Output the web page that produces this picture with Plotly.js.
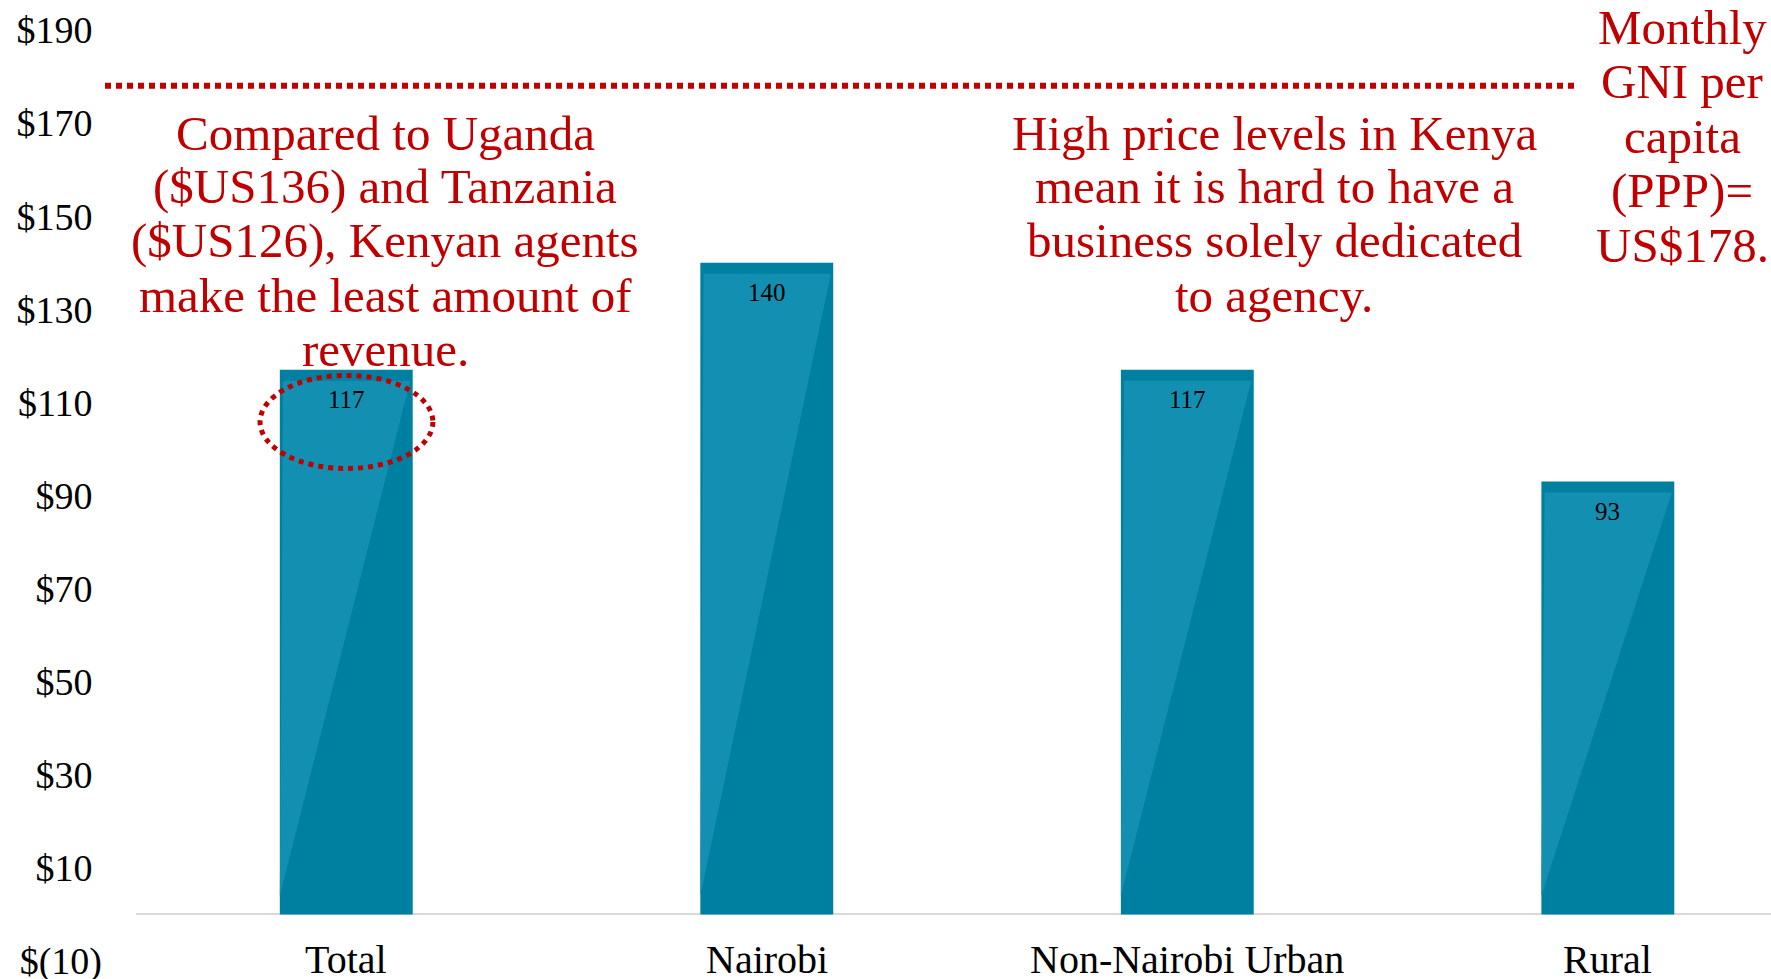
<!DOCTYPE html>
<html>
<head>
<meta charset="utf-8">
<script src="https://cdn.plot.ly/plotly-3.0.1.min.js"></script>
<style>html,body{margin:0;padding:0;background:#fff;}#chart{width:1771px;height:979px;}</style>
</head>
<body>
<div id="chart"></div>
<script>
// ---- data ----
const categories = ["Total", "Nairobi", "Non-Nairobi Urban", "Rural"];
const revenue = [117, 140, 117, 93];
const gniMonthly = 178;
const tickValues = [-10, 10, 30, 50, 70, 90, 110, 130, 150, 170, 190];
const tickLabels = ["$(10)", "$10", "$30", "$50", "$70", "$90", "$110", "$130", "$150", "$170", "$190"];
const noteLeft = ["Compared to Uganda", "($US136) and Tanzania", "($US126), Kenyan agents", "make the least amount of", "revenue."];
const noteMid = ["High price levels in Kenya", "mean it is hard to have a", "business solely dedicated", "to agency."];
const noteRight = ["Monthly", "GNI per", "capita", "(PPP)=", "US$178."];
const highlightIndex = 0;

// ---- layout helpers ----
const W = 1771, H = 979;
const M = {l: 136, r: 0, t: 30, b: 18};
const plotW = W - M.l - M.r, plotH = H - M.t - M.b;
const xRange = [-0.5, 3.388];
const yRange = [-10, 190];
const barWidth = 0.316;
const FONT = '"Liberation Serif", "Times New Roman", serif';
const RED = '#C00000';
const DARK = '#0080A0';
const LIGHT = '#1390B1';

const xPaper = v => (v - xRange[0]) / (xRange[1] - xRange[0]);
const pxX = px => (px - M.l) / plotW;
const pxY = py => (H - M.b - py) / plotH;

const annotations = [];
function addLines(lines, cx, y0, step) {
  lines.forEach((t, i) => {
    annotations.push({
      xref: 'paper', yref: 'paper', x: pxX(cx), y: pxY(y0 + i * step),
      xanchor: 'center', yanchor: 'middle', showarrow: false, text: t,
      font: {family: FONT, size: 49, color: RED}
    });
  });
}
addLines(noteLeft, 385, 133, 54);
addLines(noteMid, 1274, 133, 54);
addLines(noteRight, 1682, 27, 54.6);

// value labels and category labels
categories.forEach((c, i) => {
  annotations.push({
    xref: 'x', yref: 'y', x: c, y: revenue[i], yshift: -30,
    xanchor: 'center', yanchor: 'middle', showarrow: false, text: String(revenue[i]),
    font: {family: FONT, size: 25, color: '#000'}
  });
  annotations.push({
    xref: 'x', yref: 'y', x: c, y: yRange[0], yshift: 2,
    xanchor: 'center', yanchor: 'middle', showarrow: false, text: c,
    font: {family: FONT, size: 40, color: '#000'}
  });
});

// gloss overlays on bars (derived from data)
const shapes = [];
const unitPx = plotH / (yRange[1] - yRange[0]);
const bandUnits = 11 / unitPx;
revenue.forEach((v, i) => {
  const l = xPaper(i - barWidth / 2), r = xPaper(i + barWidth / 2);
  const top = v - bandUnits;
  shapes.push({
    type: 'path', xref: 'paper', yref: 'y', layer: 'above',
    path: `M ${l + 0.002},${top} L ${r - 0.0015},${top} L ${l},${4} Z`,
    fillcolor: LIGHT, line: {width: 0}
  });
});
// GNI dotted line
shapes.push({
  type: 'line', xref: 'paper', yref: 'y', x0: pxX(105), x1: pxX(1576), y0: gniMonthly, y1: gniMonthly,
  yshift: 0, line: {color: RED, width: 6, dash: '6px,5px'}, layer: 'above'
});
// highlight ellipse on Total value
shapes.push({
  type: 'circle', xref: 'paper', yref: 'y', layer: 'above',
  x0: xPaper(highlightIndex - 0.205), x1: xPaper(highlightIndex + 0.206),
  y0: revenue[highlightIndex] - 21.2, y1: revenue[highlightIndex] - 1.2,
  line: {color: RED, width: 5, dash: '5px,5px'}, fillcolor: 'rgba(0,0,0,0)'
});

const trace = {
  type: 'bar', x: categories, y: revenue, width: barWidth,
  marker: {color: DARK, line: {width: 0}}, hoverinfo: 'none'
};

const layout = {
  width: W, height: H, margin: M,
  paper_bgcolor: '#fff', plot_bgcolor: '#fff', showlegend: false,
  xaxis: {type: 'category', categoryorder: 'array', categoryarray: categories, range: xRange,
          showticklabels: false, showgrid: false, zeroline: false, showline: false, ticks: '', fixedrange: true},
  yaxis: {range: yRange, tickvals: tickValues,
          ticktext: tickLabels.map(t => t.includes('(') ? t : t + '\u00A0'),
          ticklabelstandoff: 33, ticklabeloverflow: 'allow',
          showgrid: false, zeroline: true, zerolinecolor: '#d9d9d9', zerolinewidth: 2,
          showline: false, ticks: '', tickfont: {family: FONT, size: 38, color: '#000'}, fixedrange: true},
  annotations: annotations, shapes: shapes
};

Plotly.newPlot('chart', [trace], layout, {staticPlot: true, displayModeBar: false});
</script>
</body>
</html>
